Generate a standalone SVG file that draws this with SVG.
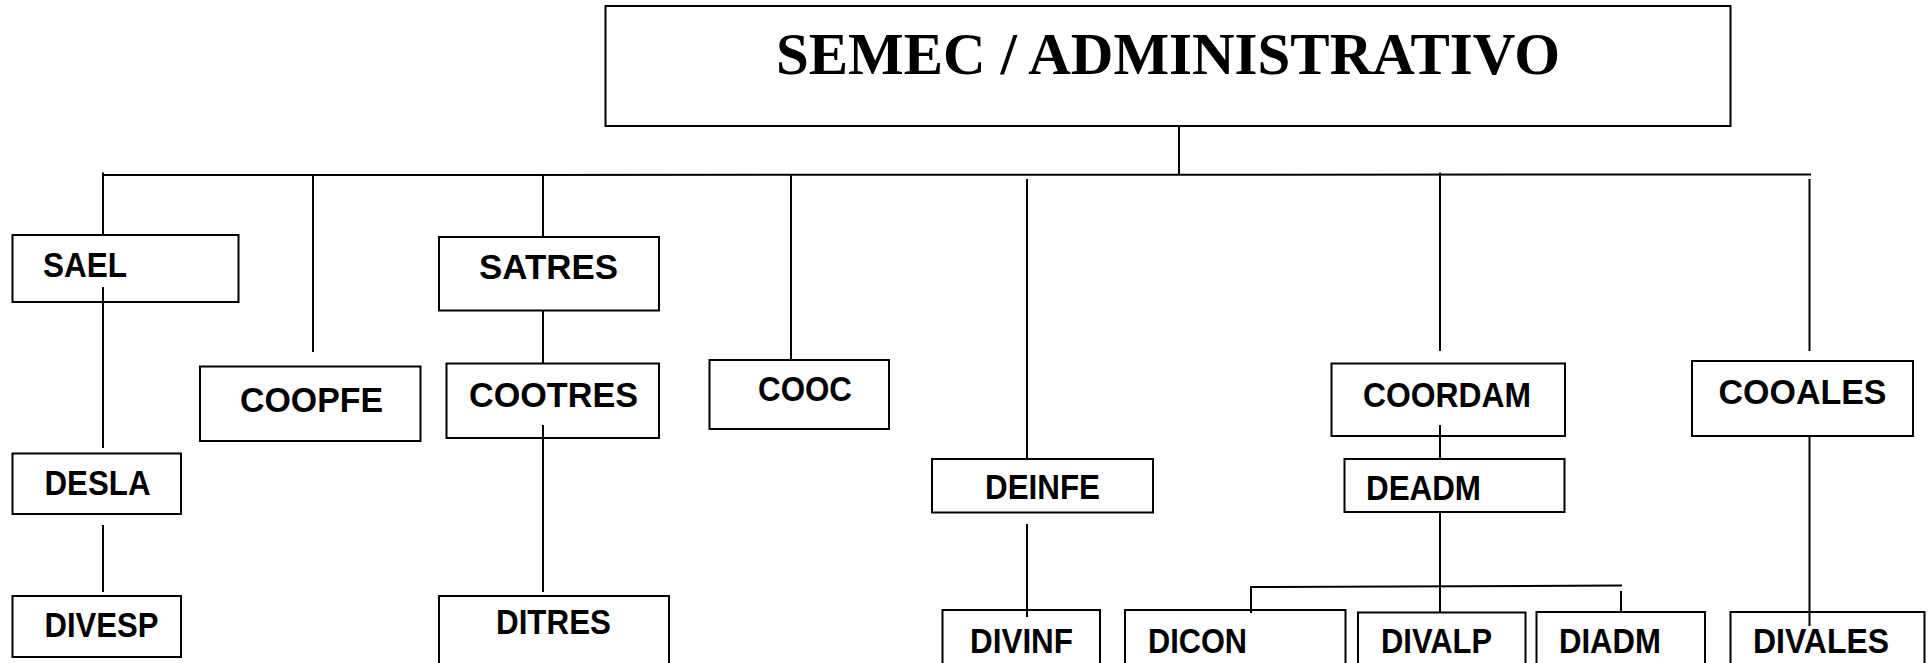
<svg xmlns="http://www.w3.org/2000/svg" width="1931" height="663" viewBox="0 0 1931 663">
<style>
.box{fill:none;stroke:#000;stroke-width:2}
.lbl{font-family:"Liberation Sans",Arial,sans-serif;font-weight:bold;font-size:35px;fill:#000}
.ttl{font-family:"Liberation Serif","Times New Roman",serif;font-weight:bold;font-size:60px;fill:#000}
.con line{stroke:#000;stroke-width:2}
</style>
<rect width="1931" height="663" fill="#fff"/>
<g id="root"><rect class="box" x="605.5" y="6" width="1125" height="120"/><text class="ttl" x="776" y="74" textLength="784" lengthAdjust="spacingAndGlyphs">SEMEC / ADMINISTRATIVO</text></g>
<g id="sael"><rect class="box" x="12.5" y="235" width="226" height="67"/><text class="lbl" x="43" y="277" textLength="84" lengthAdjust="spacingAndGlyphs">SAEL</text></g>
<g id="coopfe"><rect class="box" x="200" y="366.5" width="220.5" height="74.5"/><text class="lbl" x="240" y="411.5" textLength="143" lengthAdjust="spacingAndGlyphs">COOPFE</text></g>
<g id="satres"><rect class="box" x="439" y="237" width="220" height="73.5"/><text class="lbl" x="479" y="279" textLength="139" lengthAdjust="spacingAndGlyphs">SATRES</text></g>
<g id="cootres"><rect class="box" x="446.5" y="363.5" width="212.5" height="74.5"/><text class="lbl" x="469" y="406.5" textLength="169" lengthAdjust="spacingAndGlyphs">COOTRES</text></g>
<g id="cooc"><rect class="box" x="709.5" y="360" width="179.5" height="69"/><text class="lbl" x="758" y="400.5" textLength="94" lengthAdjust="spacingAndGlyphs">COOC</text></g>
<g id="desla"><rect class="box" x="12.5" y="453.5" width="168.5" height="60.5"/><text class="lbl" x="44.5" y="495" textLength="106" lengthAdjust="spacingAndGlyphs">DESLA</text></g>
<g id="divesp"><rect class="box" x="12.5" y="596" width="168.5" height="61"/><text class="lbl" x="44.5" y="637" textLength="114" lengthAdjust="spacingAndGlyphs">DIVESP</text></g>
<g id="ditres"><rect class="box" x="439" y="596" width="230" height="80"/><text class="lbl" x="496" y="634" textLength="115" lengthAdjust="spacingAndGlyphs">DITRES</text></g>
<g id="deinfe"><rect class="box" x="932" y="459" width="221" height="53.5"/><text class="lbl" x="985" y="499" textLength="115" lengthAdjust="spacingAndGlyphs">DEINFE</text></g>
<g id="coordam"><rect class="box" x="1331.5" y="363.5" width="233.5" height="72.5"/><text class="lbl" x="1363" y="406.5" textLength="168" lengthAdjust="spacingAndGlyphs">COORDAM</text></g>
<g id="deadm"><rect class="box" x="1344.5" y="459" width="220" height="53"/><text class="lbl" x="1366" y="499.5" textLength="115" lengthAdjust="spacingAndGlyphs">DEADM</text></g>
<g id="cooales"><rect class="box" x="1692" y="361" width="221" height="75"/><text class="lbl" x="1718.5" y="404" textLength="168" lengthAdjust="spacingAndGlyphs">COOALES</text></g>
<g id="divinf"><rect class="box" x="942.5" y="610" width="157.5" height="70"/><text class="lbl" x="970" y="652.5" textLength="103" lengthAdjust="spacingAndGlyphs">DIVINF</text></g>
<g id="dicon"><rect class="box" x="1125" y="610" width="220.5" height="70"/><text class="lbl" x="1148" y="652.5" textLength="99" lengthAdjust="spacingAndGlyphs">DICON</text></g>
<g id="divalp"><rect class="box" x="1358" y="612.5" width="167.5" height="70"/><text class="lbl" x="1381" y="653" textLength="111" lengthAdjust="spacingAndGlyphs">DIVALP</text></g>
<g id="diadm"><rect class="box" x="1536.5" y="612" width="168.5" height="70"/><text class="lbl" x="1559" y="653" textLength="102" lengthAdjust="spacingAndGlyphs">DIADM</text></g>
<g id="divales"><rect class="box" x="1730.5" y="612" width="194" height="70"/><text class="lbl" x="1753" y="653" textLength="136" lengthAdjust="spacingAndGlyphs">DIVALES</text></g>
<g id="connectors" class="con">
<line x1="1179" y1="126" x2="1179" y2="175"/>
<line x1="102" y1="175" x2="1811" y2="174.5"/>
<line x1="103" y1="172.5" x2="103" y2="235"/>
<line x1="103" y1="287" x2="103" y2="448"/>
<line x1="103" y1="525" x2="103" y2="592"/>
<line x1="313" y1="174" x2="313" y2="352"/>
<line x1="543" y1="175" x2="543" y2="237"/>
<line x1="543" y1="310" x2="543" y2="364"/>
<line x1="543" y1="425" x2="543" y2="592"/>
<line x1="791" y1="175" x2="791" y2="360"/>
<line x1="1027" y1="179" x2="1027" y2="459"/>
<line x1="1027" y1="524" x2="1027" y2="617"/>
<line x1="1440" y1="172.5" x2="1440" y2="351"/>
<line x1="1440" y1="425" x2="1440" y2="459"/>
<line x1="1440" y1="512" x2="1440" y2="613"/>
<line x1="1250" y1="587" x2="1622" y2="585.5"/>
<line x1="1251" y1="586" x2="1251" y2="613"/>
<line x1="1621" y1="591" x2="1621" y2="612"/>
<line x1="1809.5" y1="179" x2="1809.5" y2="351"/>
<line x1="1809.5" y1="437" x2="1809.5" y2="626"/>
</g>
</svg>
